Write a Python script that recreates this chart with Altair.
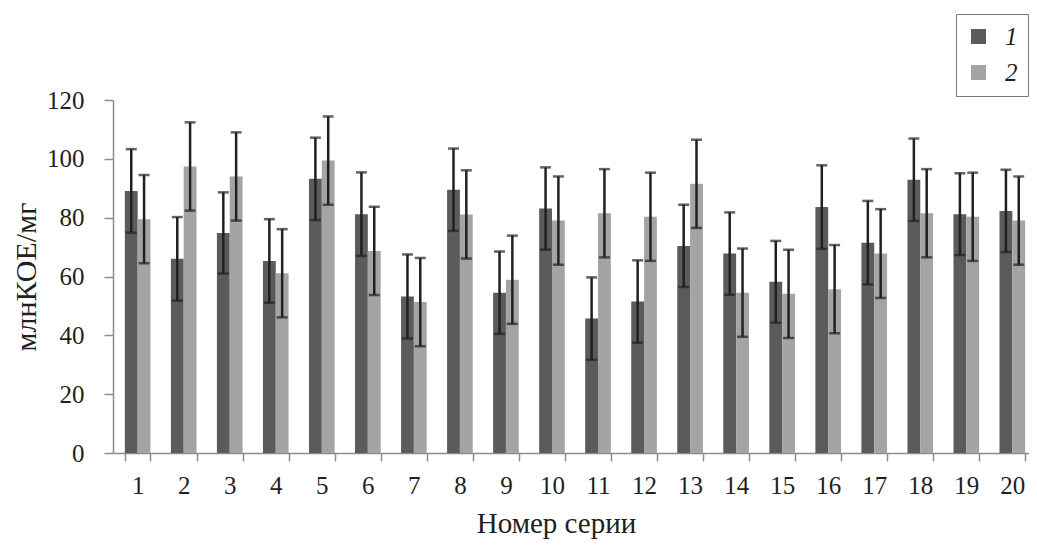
import altair as alt
import pandas as pd

categories = [str(i) for i in range(1, 21)]
series_names = ["1", "2"]
series_1 = [89.1, 66.0, 74.8, 65.3, 93.2, 81.2, 53.2, 89.5, 54.5, 83.1,
            45.7, 51.5, 70.4, 67.8, 58.2, 83.6, 71.5, 92.9, 81.2, 82.3]
err_1 = [14.2, 14.2, 13.8, 14.2, 14.0, 14.2, 14.3, 14.0, 14.0, 14.0,
         14.0, 14.0, 14.0, 14.0, 13.9, 14.2, 14.2, 14.0, 13.9, 14.0]
series_2 = [79.5, 97.4, 94.0, 61.1, 99.4, 68.7, 51.3, 81.1, 58.9, 79.0,
            81.5, 80.3, 91.5, 54.5, 54.1, 55.7, 67.8, 81.5, 80.3, 79.0]
err_2 = [15.0, 15.0, 15.0, 15.0, 15.0, 15.0, 15.0, 15.0, 15.0, 15.0,
         15.0, 15.0, 15.0, 15.0, 15.0, 15.0, 15.1, 15.0, 15.0, 15.0]

rows = []
for name, vals, errs in [("1", series_1, err_1), ("2", series_2, err_2)]:
    for c, v, e in zip(categories, vals, errs):
        rows.append({"cat": c, "series": name, "value": v,
                     "lo": v - e, "hi": v + e})
df = pd.DataFrame(rows)

FONT = "Liberation Serif, Times New Roman, serif"
x = alt.X("cat:N", sort=categories, title="Номер серии",
          scale=alt.Scale(paddingInner=0.443, paddingOuter=0.257,
                          range=[0, 924]),
          axis=alt.Axis(labelAngle=0, tickBand="extent", tickSize=8,
                        labelPadding=12, titlePadding=11, titleFontSize=29,
                        titleX=443, titleAlign="center",
                        labelFont=FONT, titleFont=FONT))
xo = alt.XOffset("series:N", sort=series_names,
                 scale=alt.Scale(paddingInner=0, paddingOuter=0))
y_axis = alt.Axis(values=[0, 20, 40, 60, 80, 100, 120], grid=False,
                  tickSize=9, labelPadding=20, titlePadding=5,
                  titleFontSize=30, labelFont=FONT, titleFont=FONT)
yscale = alt.Scale(domain=[0, 120])
ytitle = "млнКОЕ/мг"

base = alt.Chart(df)
bars = base.mark_bar().encode(
    x=x, xOffset=xo,
    y=alt.Y("value:Q", title=ytitle, scale=yscale, axis=y_axis),
    color=alt.Color("series:N", sort=series_names,
                    scale=alt.Scale(domain=series_names,
                                    range=["#5b5b5d", "#a4a4a7"]),
                    legend=alt.Legend(title=None, orient="none",
                                      legendX=843, legendY=-86,
                                      symbolType="square", symbolSize=225,
                                      symbolStrokeWidth=0,
                                      labelFont=FONT, labelFontSize=25,
                                      labelFontStyle="italic",
                                      labelColor="#231f20",
                                      rowPadding=10, padding=10,
                                      strokeColor="#777777",
                                      labelOffset=14)),
)
rules = base.mark_rule(color="#231f20", strokeWidth=2.5).encode(
    x=x, xOffset=xo,
    y=alt.Y("lo:Q", title=ytitle, scale=yscale, axis=y_axis), y2="hi:Q")
caps_hi = base.mark_tick(color="#231f20", thickness=2.5, size=11,
                         orient="horizontal").encode(
    x=x, xOffset=xo,
    y=alt.Y("hi:Q", title=ytitle, scale=yscale, axis=y_axis))
caps_lo = base.mark_tick(color="#231f20", thickness=2.5, size=11,
                         orient="horizontal").encode(
    x=x, xOffset=xo,
    y=alt.Y("lo:Q", title=ytitle, scale=yscale, axis=y_axis))

chart = alt.layer(bars, rules, caps_hi, caps_lo).properties(
    width=905, height=353,
    autosize=alt.AutoSizeParams(type="none"),
    padding={"left": 105, "top": 92, "right": 11, "bottom": 86},
).configure_view(stroke=None).configure_axis(
    labelFont=FONT, titleFont=FONT, labelFontSize=25,
    titleFontWeight="normal", domainColor="#8c8c8c", tickColor="#8c8c8c",
    labelColor="#231f20", titleColor="#231f20", domainWidth=1.5,
    tickWidth=1.5)

chart.save("out.html", embed_options={"renderer": "svg", "actions": False})
